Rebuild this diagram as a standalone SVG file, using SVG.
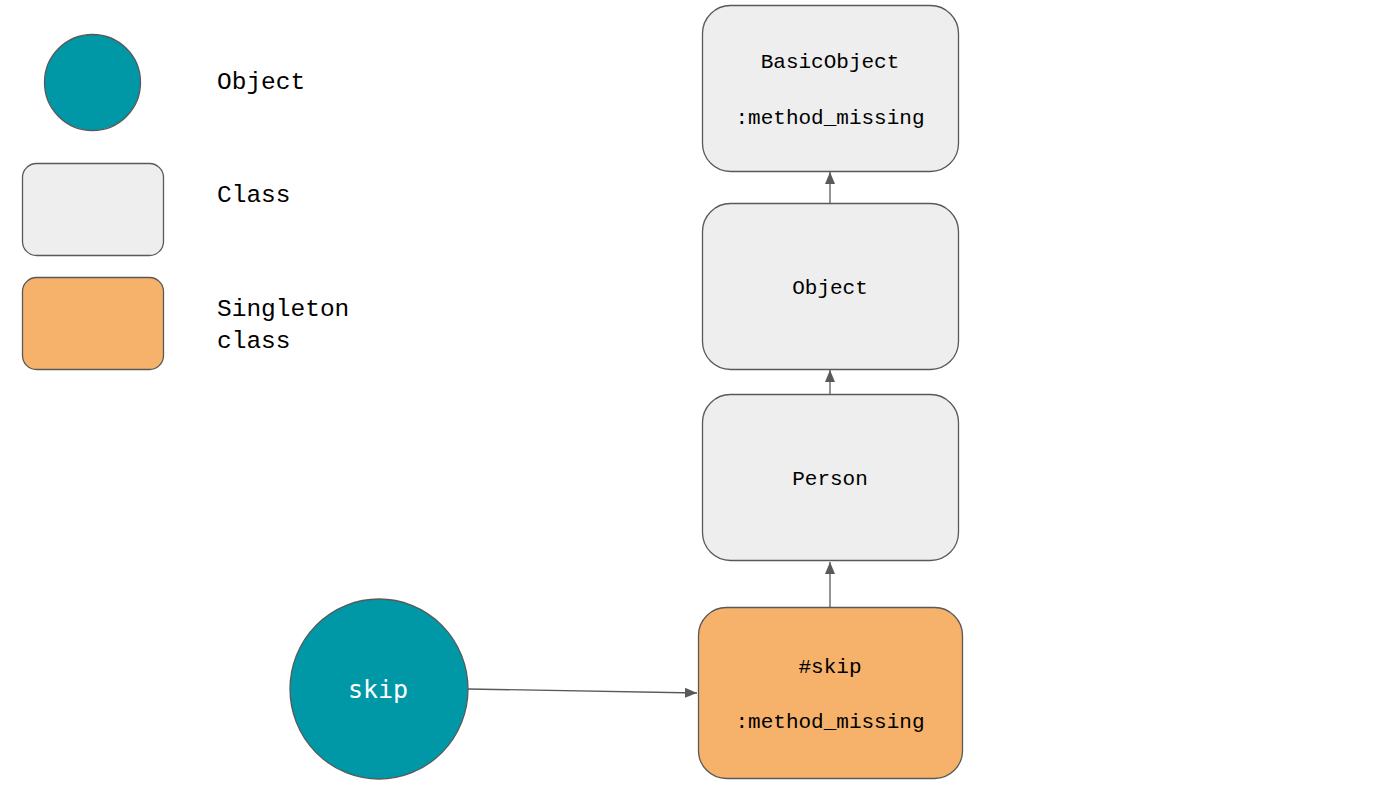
<svg xmlns="http://www.w3.org/2000/svg" width="1396" height="785" viewBox="0 0 1396 785">
<defs>
<style>
.cls{fill:#eeeeee;stroke:#595959;stroke-width:1.3}
.sing{fill:#f6b26b;stroke:#595959;stroke-width:1.3}
.obj{fill:#0097a7;stroke:#595959;stroke-width:1.3}
.t{font-family:"Liberation Mono","DejaVu Sans Mono",monospace;font-size:21px;fill:#000;text-anchor:middle}
.lg{font-family:"Liberation Mono","DejaVu Sans Mono",monospace;font-size:24.5px;fill:#000}
.conn{stroke:#595959;stroke-width:1.3;fill:none;marker-end:url(#ah)}
</style>
<marker id="ah" viewBox="0 0 12 10" refX="12" refY="5" markerWidth="12" markerHeight="10" markerUnits="userSpaceOnUse" orient="auto">
<path d="M0,0 L12,5 L0,10 Z" fill="#595959"/>
</marker>
</defs>
<rect width="1396" height="785" fill="#ffffff"/>
<g id="legend">
<circle class="obj" cx="92.5" cy="82.5" r="48"/>
<rect class="cls" x="22.5" y="163.5" width="141" height="92" rx="14"/>
<rect class="sing" x="22.5" y="277.5" width="141" height="92" rx="14"/>
<text class="lg" x="217" y="89">Object</text>
<text class="lg" x="217" y="202">Class</text>
<text class="lg" x="217" y="316">Singleton</text>
<text class="lg" x="217" y="348">class</text>
</g>
<g id="connectors">
<line class="conn" x1="830" y1="203" x2="830" y2="172"/>
<line class="conn" x1="830" y1="394" x2="830" y2="370"/>
<line class="conn" x1="830" y1="607" x2="830" y2="562"/>
<line class="conn" x1="468" y1="689" x2="697" y2="693"/>
</g>
<g id="basicobject">
<rect class="cls" x="702.5" y="5.5" width="256" height="166" rx="28"/>
<text class="t" x="830" y="68">BasicObject</text>
<text class="t" x="830" y="124">:method_missing</text>
</g>
<g id="object">
<rect class="cls" x="702.5" y="203.5" width="256" height="166" rx="28"/>
<text class="t" x="830" y="294">Object</text>
</g>
<g id="person">
<rect class="cls" x="702.5" y="394.5" width="256" height="166" rx="28"/>
<text class="t" x="830" y="485">Person</text>
</g>
<g id="singleton">
<rect class="sing" x="698.5" y="607.5" width="264" height="171" rx="28"/>
<text class="t" x="830" y="673">#skip</text>
<text class="t" x="830" y="728">:method_missing</text>
</g>
<g id="skip">
<ellipse class="obj" cx="379" cy="689" rx="89" ry="90"/>
<text x="378" y="698" style="font-family:'DejaVu Sans Mono',monospace;font-size:25px;fill:#ffffff;text-anchor:middle">skip</text>
</g>
</svg>
